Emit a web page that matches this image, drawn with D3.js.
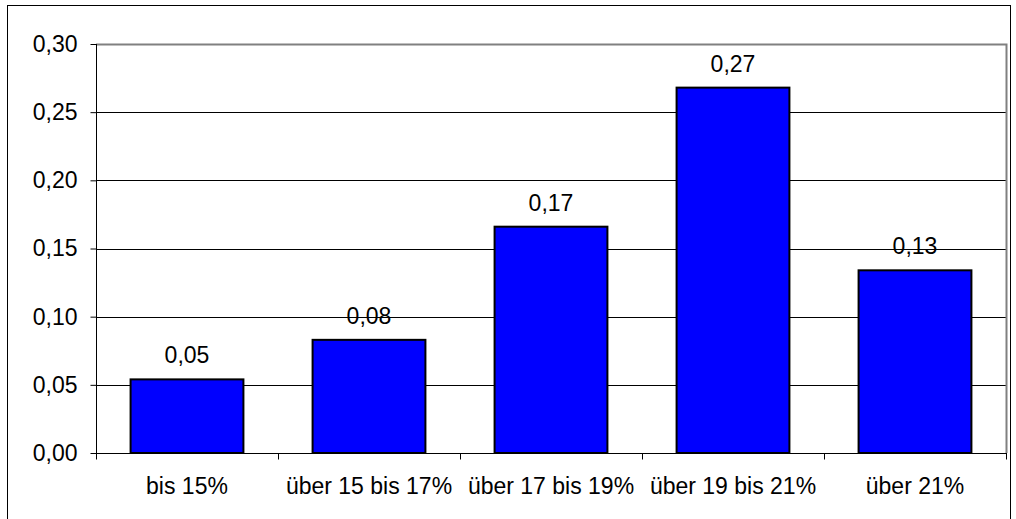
<!DOCTYPE html>
<html lang="de">
  <head>
    <meta charset="UTF-8" />
    <title>Verteilung</title>
    <style>
      html, body { margin: 0; padding: 0; background: #fff; }
      svg { display: block; }
    </style>
    <script src="https://cdn.jsdelivr.net/npm/d3@7"></script>
  </head>
  <body>
    <script>
      const categories = ["bis 15%", "über 15 bis 17%", "über 17 bis 19%", "über 19 bis 21%", "über 21%"];
      const values = [0.054, 0.083, 0.166, 0.268, 0.134];
      const yTicks = [0, 0.05, 0.1, 0.15, 0.2, 0.25, 0.3];

      const width = 1016, height = 519;
      const plot = { left: 96, right: 1006, top: 44, bottom: 453 };
      const fontSize = 23;
      const font = "'Liberation Sans', Arial, sans-serif";
      const fmt = (v) => d3.format(".2f")(v).replace(".", ",");

      const svg = d3.select(document.body)
        .append("svg")
        .attr("width", width)
        .attr("height", height)
        .attr("font-family", font)
        .attr("font-size", fontSize);

      // outer frame
      svg.append("rect")
        .attr("x", 7.5).attr("y", 5.5)
        .attr("width", 1003).attr("height", 530)
        .attr("fill", "none").attr("stroke", "#000").attr("stroke-width", 1);

      const x = d3.scaleBand()
        .domain(categories)
        .range([plot.left, plot.right])
        .paddingInner(0.38)
        .paddingOuter(0.19);

      const y = d3.scaleLinear()
        .domain([0, 0.3])
        .range([plot.bottom, plot.top]);

      // gridlines
      svg.append("g")
        .selectAll("line")
        .data(yTicks.slice(1, -1))
        .join("line")
        .attr("x1", plot.left).attr("x2", plot.right)
        .attr("y1", (d) => Math.round(y(d)) + 0.5)
        .attr("y2", (d) => Math.round(y(d)) + 0.5)
        .attr("stroke", "#000");

      // grey plot frame top/right
      svg.append("path")
        .attr("d", `M${plot.left},${plot.top + 0.5}H${plot.right + 0.5}V${plot.bottom}`)
        .attr("fill", "none")
        .attr("stroke", "#808080")
        .attr("stroke-width", 2);

      // bars
      svg.append("g")
        .selectAll("rect")
        .data(values)
        .join("rect")
        .attr("x", (d, i) => x(categories[i]))
        .attr("y", (d) => y(d))
        .attr("width", x.bandwidth())
        .attr("height", (d) => y(0) - y(d))
        .attr("fill", "#0000ff")
        .attr("stroke", "#000")
        .attr("stroke-width", 2);

      // value labels
      svg.append("g")
        .attr("text-anchor", "middle")
        .attr("fill", "#000")
        .selectAll("text")
        .data(values)
        .join("text")
        .attr("x", (d, i) => x(categories[i]) + x.bandwidth() / 2)
        .attr("y", (d) => y(d) - 16)
        .text((d) => fmt(d));

      // y axis
      const yAxis = svg.append("g")
        .attr("transform", `translate(${plot.left + 0.5},0)`)
        .call(d3.axisLeft(y).tickValues(yTicks).tickSize(6).tickPadding(13).tickFormat(fmt));
      yAxis.select(".domain").attr("stroke", "#000").attr("d", `M0,${plot.top}V${plot.bottom}`);
      yAxis.selectAll("text").attr("font-size", fontSize).attr("font-family", font).attr("fill", "#000");

      // x axis
      const bounds = d3.range(categories.length + 1).map((i) => plot.left + i * x.step());
      const xAxis = svg.append("g")
        .attr("transform", `translate(0,${plot.bottom + 0.5})`);
      xAxis.append("line")
        .attr("x1", plot.left).attr("x2", plot.right + 1)
        .attr("stroke", "#000");
      xAxis.selectAll("line.tick")
        .data(bounds)
        .join("line")
        .attr("class", "tick")
        .attr("x1", (d) => Math.round(d) + 0.5).attr("x2", (d) => Math.round(d) + 0.5)
        .attr("y1", 0).attr("y2", 6)
        .attr("stroke", "#000");
      xAxis.selectAll("text")
        .data(categories)
        .join("text")
        .attr("x", (d) => x(d) + x.bandwidth() / 2)
        .attr("y", 40)
        .attr("text-anchor", "middle")
        .attr("fill", "#000")
        .text((d) => d);
    </script>
  </body>
</html>
